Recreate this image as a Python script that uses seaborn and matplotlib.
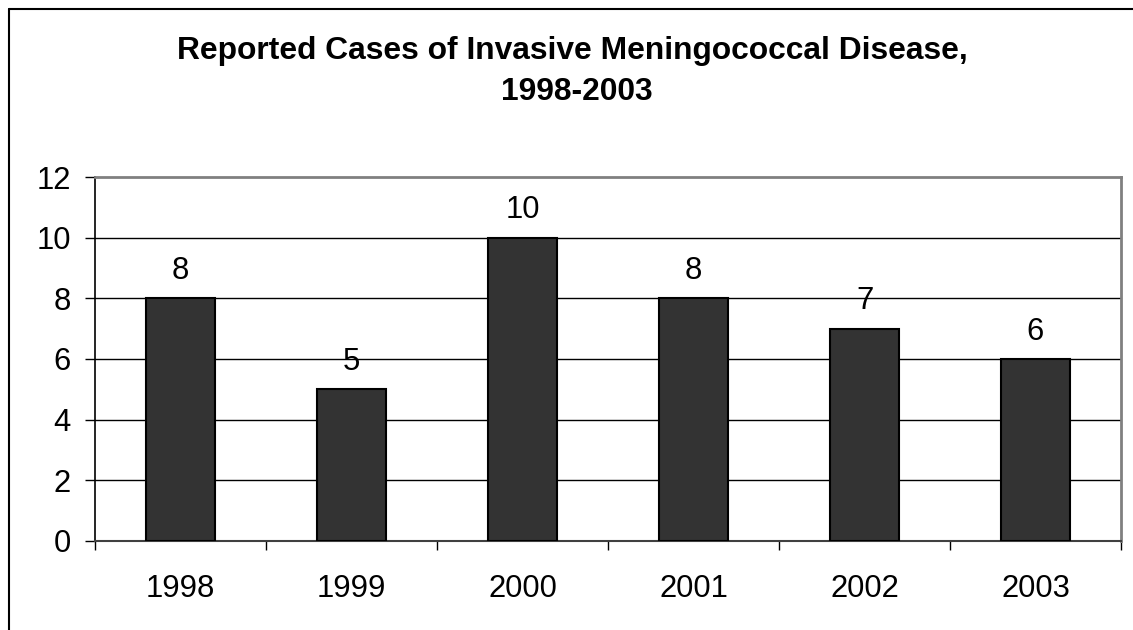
import matplotlib
matplotlib.use("Agg")
import matplotlib.pyplot as plt
from matplotlib.lines import Line2D
from matplotlib.ticker import FixedLocator
import seaborn as sns
import pandas as pd

years = ["1998", "1999", "2000", "2001", "2002", "2003"]
cases = [8, 5, 10, 8, 7, 6]
title_lines = ["Reported Cases of Invasive Meningococcal Disease,", "1998-2003"]

sns.set_style("white")
plt.rcParams["font.family"] = ["Liberation Sans", "DejaVu Sans"]
plt.rcParams["text.color"] = "black"
plt.rcParams["xtick.color"] = "black"
plt.rcParams["ytick.color"] = "black"

W, H, DPI = 1133, 630, 100
fig = plt.figure(figsize=(W / DPI, H / DPI), dpi=DPI)
fig.patch.set_facecolor("white")

L, R, T, B = 95, 1121, 177, 541
ax = fig.add_axes([L / W, (H - B) / H, (R - L) / W, (B - T) / H])

df = pd.DataFrame({"year": years, "cases": cases})
sns.barplot(data=df, x="year", y="cases", color="#333333", width=0.4,
            edgecolor="black", linewidth=1.5, saturation=1, ax=ax, zorder=3)
for p in ax.patches:
    p.set_facecolor("#333333")

ax.set_ylim(0, 12)
ax.set_xlim(-0.5, len(years) - 0.5)
ax.set_yticks(range(0, 13, 2))
ax.set_xlabel("")
ax.set_ylabel("")

for y in range(2, 12, 2):
    ax.axhline(y, color="black", linewidth=1.0, zorder=1)

for side in ["top", "right"]:
    ax.spines[side].set_visible(True)
    ax.spines[side].set_color("#808080")
    ax.spines[side].set_linewidth(2)
ax.spines["left"].set_color("black")
ax.spines["left"].set_linewidth(1.2)
ax.spines["bottom"].set_color("#404040")
ax.spines["bottom"].set_linewidth(1.5)

ax.tick_params(axis="y", which="major", direction="out", length=7.5, width=1,
               color="black", labelcolor="black", labelsize=22.3, pad=10, left=True)
ax.tick_params(axis="x", which="major", length=0, labelsize=22.3, pad=24,
               labelcolor="black")
ax.xaxis.set_minor_locator(FixedLocator([i - 0.5 for i in range(len(years) + 1)]))
ax.tick_params(axis="x", which="minor", direction="out", length=6.5, width=1,
               color="black", bottom=True)

ax.bar_label(ax.containers[0], labels=[str(v) for v in cases], padding=9,
             fontsize=22.3, color="black")

fig.text(572 / W, 1 - 59 / H, title_lines[0], ha="center", va="baseline",
         fontsize=22.9, fontweight="bold", color="black")
fig.text(577 / W, 1 - 100 / H, title_lines[1], ha="center", va="baseline",
         fontsize=22.9, fontweight="bold", color="black")

# outer chart frame (top and left edges)
fig.add_artist(Line2D([9 / W, 1], [1 - 9 / H, 1 - 9 / H], transform=fig.transFigure,
                      color="black", linewidth=1.5))
fig.add_artist(Line2D([9 / W, 9 / W], [0, 1 - 9 / H], transform=fig.transFigure,
                      color="black", linewidth=1.5))

fig.savefig("out.png", dpi=DPI, facecolor="white")
